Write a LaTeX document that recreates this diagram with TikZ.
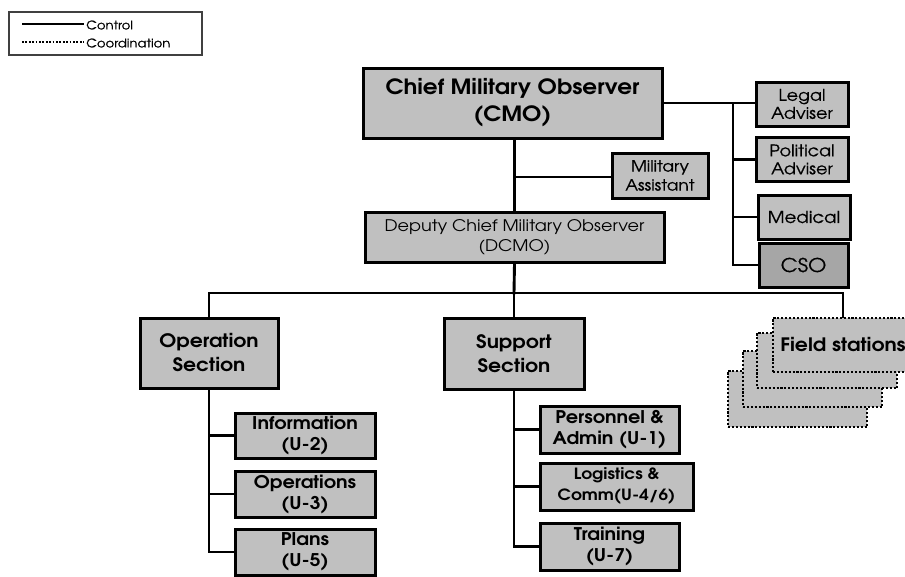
\documentclass[tikz,border=0pt]{standalone}
\usepackage{fontspec}
\setmainfont[FakeStretch=1.1]{TeX Gyre Adventor}
\newfontfamily\medfont[FakeStretch=1.1,FakeBold=0.6]{TeX Gyre Adventor}
\newcommand{\fsz}[2]{\fontsize{#1}{#2}\selectfont}
\begin{document}
\begin{tikzpicture}[x=1pt,y=-1pt,
  box/.style={draw=black,line width=3pt,fill=boxgray,inner sep=0pt,align=center,font=\bfseries\fsz{17.5}{21}},
  boxreg/.style={box,font=\medfont\fsz{16}{19}},
  conn/.style={line width=2.9pt,line cap=rect},
  thin/.style={line width=1.6pt},
  fsbox/.style={draw=black,fill=boxgray,line width=2.5pt,dash pattern=on 2.1pt off 1.8pt},
]
\definecolor{boxgray}{HTML}{C0C0C0}
\definecolor{darkgray}{HTML}{A6A6A6}
\useasboundingbox (0,0) rectangle (905,576);
\clip (0,0) rectangle (905,576);

% legend
\node[draw=black!75,line width=1.4pt,minimum width=193pt,minimum height=43pt,inner sep=0pt] (legend) at (105.5,33.5) {};
\coordinate (l1a) at (22,24); \coordinate (l1b) at (84,24);
\coordinate (l2a) at (22,42); \coordinate (l2b) at (84,42);
\draw[line width=2.6pt] (l1a) -- (l1b);
\draw[line width=2pt,dash pattern=on 1.8pt off 1.6pt] (l2a) -- (l2b);
\node[anchor=west,inner sep=0pt,font=\medfont\fsz{12}{13}] (lc) at (86,25) {Control};
\node[anchor=west,inner sep=0pt,font=\medfont\fsz{12}{13}] (lo) at (86,43) {Coordination};

% top level
\node[box,minimum width=299pt,minimum height=70pt,font=\bfseries\fsz{21}{27}] (cmo) at (512.5,103) {Chief Military Observer\\(CMO)};
\node[boxreg,minimum width=96pt,minimum height=45pt,font=\medfont\fsz{15.5}{19}] (ma) at (660,175.5) {Military\\Assistant};
\node[boxreg,minimum width=92pt,minimum height=44pt,font=\medfont\fsz{16}{18}] (legal) at (802,104) {Legal\\Adviser};
\node[boxreg,minimum width=92pt,minimum height=44pt,font=\medfont\fsz{16}{18}] (pol) at (802,159.5) {Political\\Adviser};
\node[boxreg,minimum width=92pt,minimum height=44pt,font=\medfont\fsz{16.5}{18}] (med) at (804,217) {Medical};
\node[boxreg,fill=darkgray,minimum width=89pt,minimum height=44pt,font=\medfont\fsz{19}{20}] (cso) at (803.5,265) {CSO};
\node[boxreg,minimum width=299pt,minimum height=50pt,font=\fsz{16}{20}] (dcmo) at (514.5,237) {Deputy Chief Military Observer\\(DCMO)};

% sections
\node[box,minimum width=138pt,minimum height=70pt,font=\bfseries\fsz{18.5}{24}] (ops) at (209,353) {Operation\\Section};
\node[box,minimum width=140pt,minimum height=71pt,font=\bfseries\fsz{18.5}{24}] (sup) at (514,353.5) {Support\\Section};

\node[box,minimum width=140pt,minimum height=45pt] (info) at (305,435.5) {Information\\(U-2)};
\node[box,minimum width=140pt,minimum height=46pt] (oper) at (305,494) {Operations\\(U-3)};
\node[box,minimum width=140pt,minimum height=46pt] (plans) at (305,552) {Plans\\(U-5)};

\node[box,minimum width=139pt,minimum height=47pt] (pers) at (609.5,429.5) {Personnel \&\\Admin (U-1)};
\node[box,minimum width=153pt,minimum height=47pt,font=\bfseries\fsz{15.5}{21}] (log) at (616.5,486.5) {Logistics \&\\Comm(U-4/6)};
\node[box,minimum width=139pt,minimum height=47pt] (train) at (609.5,546.5) {Training\\(U-7)};

% field stations
\node[fsbox,minimum width=139pt,minimum height=56pt] (fs4) at (797.5,399) {};
\node[fsbox,minimum width=139pt,minimum height=56pt] (fs3) at (812.5,379) {};
\node[fsbox,minimum width=140pt,minimum height=55pt] (fs2) at (827,360.5) {};
\node[fsbox,minimum width=140pt,minimum height=54pt,font=\bfseries\fsz{18.5}{20},inner sep=0pt] (fs1) at (843,345) {Field stations};

% connectors
\coordinate (busr) at (733,103);
\coordinate (bar) at (514,293);
\coordinate (mab) at (513,177);
\draw[conn] (cmo.south -| dcmo.north) -- (dcmo.north);
\draw[thin] (mab) -- (ma.west |- mab);
\draw[conn] (cmo.east |- busr) -- (busr) -- (legal.west |- busr);
\draw[conn] (busr) -- (busr |- cso.west) -- (cso.west);
\draw[conn] (busr |- pol.west) -- (pol.west);
\draw[conn] (busr |- med.west) -- (med.west);
\draw[conn] (dcmo.south) -- (bar);
\draw[conn] (ops.north) -- (ops.north |- bar) -- (fs1.north |- bar) -- (fs1.north);
\draw[conn] (bar) -- (sup.north);
\draw[conn] (ops.south) -- (ops.south |- plans.west) -- (plans.west);
\draw[conn] (ops.south |- info.west) -- (info.west);
\draw[conn] (ops.south |- oper.west) -- (oper.west);
\draw[conn] (sup.south) -- (sup.south |- train.west) -- (train.west);
\draw[conn] (sup.south |- pers.west) -- (pers.west);
\draw[conn] (sup.south |- log.west) -- (log.west);
\end{tikzpicture}
\end{document}
